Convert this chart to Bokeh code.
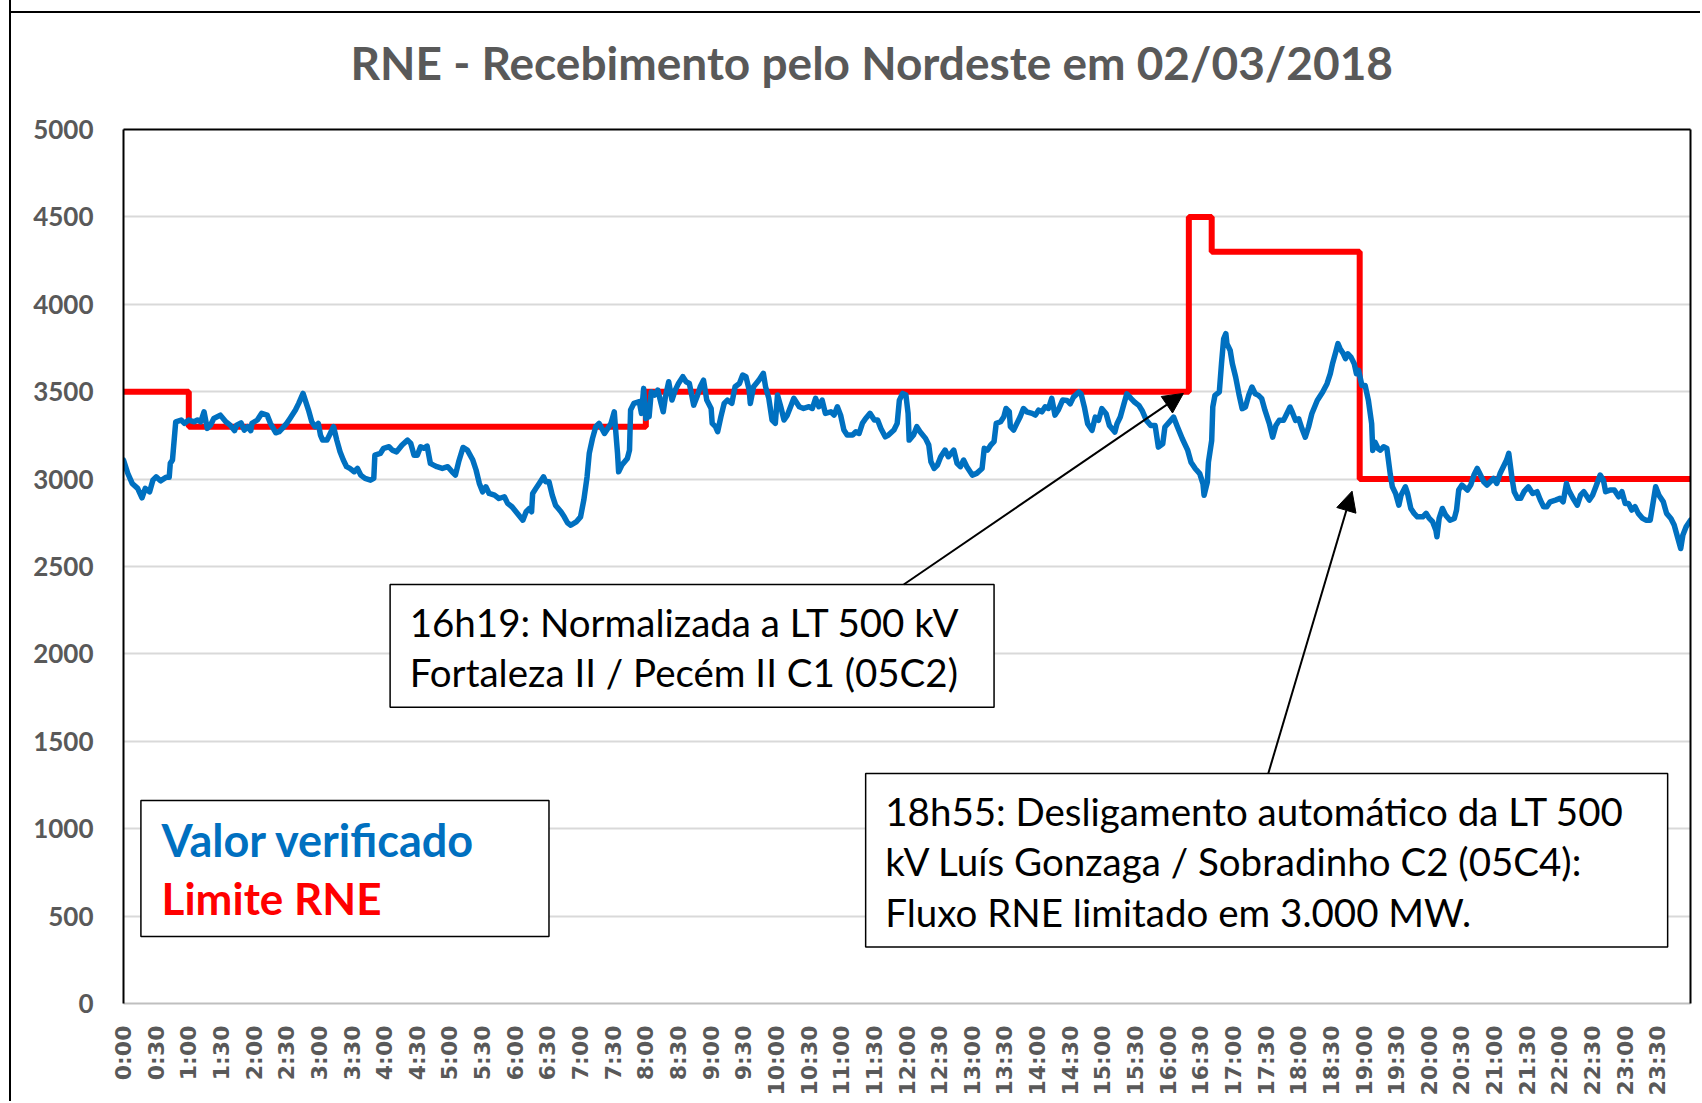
from math import pi
from bokeh.plotting import figure
from bokeh.models import Range1d, FixedTicker, Label, BoxAnnotation, Arrow, NormalHead, LinearAxis
from bokeh.embed import file_html
from bokeh.resources import INLINE

# ---------------- data ----------------
minutes = [0, 4, 8, 13, 17, 20, 24, 27, 30, 34, 39, 42, 43, 45, 48, 53, 56, 60, 65, 68, 71, 74, 77, 80, 83, 89, 94, 98,
           102, 104, 108, 111, 114, 117, 118, 123, 127, 132, 135, 140, 143, 146, 150, 153, 158, 161, 165, 167, 170, 173,
           176, 179, 181, 183, 187, 190, 193, 196, 199, 202, 205, 208, 212, 215, 218, 222, 227, 230, 231, 236, 239, 244,
           247, 251, 256, 261, 264, 267, 270, 273, 276, 279, 282, 285,
           288, 293, 298, 302, 305, 308, 312, 316, 321, 324, 327, 330, 333, 336, 341, 345, 350, 353, 357, 362, 367, 370,
           373, 375, 376, 379, 382, 386, 388, 391, 394, 397, 402, 405, 408, 411, 416, 420, 423, 426, 428, 431, 434, 437,
           442, 445, 448, 451, 452, 454, 455, 458, 463, 465, 466, 469, 474, 476, 478, 480, 483, 485, 488, 491, 494, 496,
           498, 501, 504, 507, 510, 514, 517, 520, 524, 527, 530, 533, 536, 540, 541, 544, 546, 549, 552, 555, 559, 562,
           566, 569,
           572, 575, 576, 579, 584, 588, 590, 593, 596, 599, 601, 604, 607, 610, 613, 616, 621, 625, 630, 633, 636, 639,
           642, 645, 650, 653, 656, 659, 662, 665, 670, 673, 676, 679, 682, 686, 690, 693, 696, 700, 703, 708, 711, 713,
           716, 719, 721, 722, 726, 729, 732, 737, 740, 742, 745, 748, 751, 755, 758, 763, 766, 769, 772, 775, 780, 784,
           789, 791, 794, 797, 800, 802, 806, 809, 811, 814, 815, 818, 821, 824, 827, 830, 835, 838, 841, 844, 847, 850,
           853, 856, 859, 863,
           867, 870, 873, 878, 880, 883, 886, 890, 893, 896, 899, 903, 906, 911, 913, 916, 919, 922, 926, 929, 933, 936,
           940, 944, 948, 951, 955, 957, 961, 965, 968, 973, 978, 981, 985, 989, 992, 993, 996, 997, 1000, 1001, 1003,
           1007, 1009, 1011, 1013, 1014, 1017, 1019, 1022, 1025, 1028, 1031, 1034, 1037, 1040, 1043, 1046, 1049, 1053,
           1056, 1059, 1062, 1066, 1069, 1072, 1074, 1077, 1080, 1083, 1086, 1089, 1092, 1097, 1102, 1106, 1109, 1111,
           1114, 1116, 1118, 1121, 1123, 1125, 1128, 1131, 1133, 1135, 1138, 1141, 1144, 1147, 1148, 1150, 1153,
           1155, 1158, 1161, 1164, 1166, 1169, 1172, 1174, 1178, 1180, 1183, 1186, 1189, 1194, 1197, 1200, 1203, 1206,
           1207, 1209, 1212, 1215, 1219, 1223, 1225, 1227, 1230, 1235, 1238, 1241, 1244, 1247, 1250, 1253, 1256, 1259,
           1262, 1265, 1268, 1271, 1273, 1276, 1278, 1281, 1284, 1287, 1291, 1295, 1299, 1302, 1305, 1308, 1311, 1316,
           1320, 1323, 1326, 1328, 1332, 1336, 1339, 1342, 1347, 1350, 1353, 1357, 1360, 1362, 1366, 1370, 1374, 1377,
           1380, 1383, 1386, 1389, 1392, 1396, 1399, 1403, 1406, 1408, 1411, 1415, 1418, 1422, 1425, 1428, 1431, 1433,
           1436, 1440]

valor_verificado = [3109, 3032, 2975, 2947, 2893, 2947, 2927, 2994, 3013, 2990, 3010, 3010, 3090, 3109, 3328, 3338, 3319,
                    3338, 3328, 3338, 3328, 3385, 3290, 3309, 3347, 3366, 3328, 3309, 3277, 3309, 3322, 3280, 3300, 3277,
                    3319, 3338, 3376, 3366, 3319, 3265, 3271, 3290, 3319, 3347, 3395, 3433, 3490, 3452, 3395, 3328, 3300,
                    3319, 3252, 3223, 3223, 3261, 3300, 3223, 3156, 3109, 3071, 3061, 3042, 3061, 3023, 3004, 2994, 3004,
                    3137, 3147, 3176, 3185, 3166, 3156, 3195, 3223, 3204, 3137, 3137, 3185, 3176, 3189, 3090, 3080,
                    3071, 3061, 3071, 3042, 3023, 3099, 3181, 3166, 3109, 3052, 2975, 2927, 2956, 2918, 2908, 2889, 2899,
                    2861, 2842, 2803, 2765, 2813, 2832, 2813, 2918, 2947, 2975, 3013, 2985, 2985, 2908, 2851, 2813, 2784,
                    2750, 2736, 2755, 2784, 2880, 3013, 3147, 3233, 3300, 3319, 3261, 3290, 3319, 3385, 3300, 3147, 3042,
                    3080, 3118, 3166, 3395, 3433, 3443, 3376, 3519, 3347, 3357, 3500, 3481, 3509, 3433, 3385, 3471, 3557,
                    3452, 3509, 3547, 3586, 3557, 3547, 3423, 3471, 3528, 3566, 3452, 3404, 3319, 3300, 3271, 3357, 3433,
                    3452, 3433, 3528, 3547, 3595,
                    3586, 3509, 3433, 3528, 3567, 3605, 3529, 3462, 3338, 3319, 3481, 3414, 3338, 3366, 3414, 3462, 3414,
                    3404, 3414, 3404, 3462, 3414, 3452, 3376, 3385, 3366, 3414, 3366, 3281, 3252, 3252, 3271, 3261, 3319,
                    3347, 3376, 3338, 3338, 3290, 3242, 3252, 3281, 3319, 3452, 3490, 3481, 3376, 3223, 3252, 3300, 3271,
                    3233, 3195, 3099, 3061, 3080, 3128, 3166, 3128, 3166, 3090, 3071, 3109, 3071, 3023, 3033, 3061, 3176,
                    3166, 3195, 3214, 3319, 3328, 3357, 3404, 3385, 3300, 3281, 3319, 3357, 3404, 3385, 3376, 3366, 3395,
                    3385, 3414, 3404, 3462, 3366, 3395, 3452,
                    3450, 3431, 3469, 3498, 3488, 3412, 3317, 3279, 3355, 3336, 3403, 3374, 3307, 3269, 3317, 3355, 3422,
                    3488, 3460, 3441, 3422, 3393, 3336, 3307, 3307, 3183, 3202, 3298, 3326, 3355, 3307, 3231, 3164, 3097,
                    3059, 3031, 2973, 2907, 2983, 3097, 3221, 3412, 3479, 3498, 3660, 3803, 3832, 3775, 3736, 3660, 3584,
                    3488, 3403, 3412, 3479, 3527, 3488, 3479, 3460, 3393, 3317, 3240, 3307, 3336, 3336, 3374, 3412, 3384,
                    3336, 3345, 3288, 3240, 3298, 3374, 3450, 3498, 3546, 3603, 3660, 3727, 3775, 3746, 3717, 3689, 3717,
                    3698, 3660, 3603, 3622, 3536, 3536, 3450, 3317, 3164, 3212, 3174,
                    3166, 3185, 3175, 3032, 2956, 2918, 2851, 2908, 2956, 2918, 2832, 2804, 2784, 2784, 2804, 2775, 2756,
                    2708, 2670, 2775, 2832, 2794, 2765, 2775, 2823, 2937, 2966, 2937, 2966, 3023, 3061, 3023, 2985, 2966,
                    2985, 3004, 2975, 3032, 3071, 3109, 3147, 3004, 2928, 2890, 2890, 2928, 2956, 2918, 2928, 2880, 2842,
                    2842, 2870, 2880, 2890, 2870, 2975, 2937, 2890, 2851, 2908, 2928, 2880, 2908, 2956, 3023, 2994, 2928,
                    2937, 2937, 2899, 2928, 2861, 2861, 2823, 2842, 2804, 2775, 2765, 2765, 2880, 2956, 2908, 2870, 2804,
                    2775, 2737, 2670, 2603, 2680, 2727, 2765]

limit_minutes = [0, 60, 480, 979, 1000, 1136, 1440]
limite_rne = [3500, 3300, 3500, 4500, 4300, 3000, 3000]

y_ticks = [0, 500, 1000, 1500, 2000, 2500, 3000, 3500, 4000, 4500, 5000]
x_tick_minutes = [0, 30, 60, 90, 120, 150, 180, 210, 240, 270, 300, 330, 360, 390, 420, 450, 480, 510, 540, 570,
                  600, 630, 660, 690, 720, 750, 780, 810, 840, 870, 900, 930, 960, 990, 1020, 1050, 1080, 1110,
                  1140, 1170, 1200, 1230, 1260, 1290, 1320, 1350, 1380, 1410]
x_tick_labels = ["0:00", "0:30", "1:00", "1:30", "2:00", "2:30", "3:00", "3:30", "4:00", "4:30", "5:00", "5:30",
                 "6:00", "6:30", "7:00", "7:30", "8:00", "8:30", "9:00", "9:30", "10:00", "10:30", "11:00", "11:30",
                 "12:00", "12:30", "13:00", "13:30", "14:00", "14:30", "15:00", "15:30", "16:00", "16:30", "17:00",
                 "17:30", "18:00", "18:30", "19:00", "19:30", "20:00", "20:30", "21:00", "21:30", "22:00", "22:30",
                 "23:00", "23:30"]

title_text = "RNE - Recebimento pelo Nordeste em 02/03/2018"
note1_lines = ["16h19: Normalizada a LT 500 kV", "Fortaleza II / Pecém II C1 (05C2)"]
note2_lines = ["18h55: Desligamento automático da LT 500", "kV Luís Gonzaga / Sobradinho C2 (05C4):",
               "Fluxo RNE limitado em 3.000 MW."]

BLUE = "#0070C0"
RED = "#FF0000"
GRAY_TXT = "#595959"
CAL = "Lato"

# ---------------- figure ----------------
p = figure(width=1691, height=1107, x_range=Range1d(0, 1440), y_range=Range1d(0, 5000),
           output_backend="svg", toolbar_location=None,
           min_border_left=112, min_border_right=12, min_border_top=135, min_border_bottom=98)
# outer chart frame: left edge as a border, top edge as a thin background stripe
p.styles = {"margin-left": "9px", "margin-top": "-6px",
            "border-left": "2px solid black",
            "background-color": "white",
            "background-image": "linear-gradient(black, black)",
            "background-repeat": "no-repeat",
            "background-size": "100% 2px",
            "background-position": "0px 17px"}
p.background_fill_color = "white"
p.border_fill_color = None
p.outline_line_color = None

# title
p.title.text = title_text
p.title.align = "left"
p.title.vertical_align = "top"
p.title.offset = 227
p.title.standoff = 76
p.title.text_font = CAL
p.title.text_font_style = "bold"
p.title.text_font_size = "46px"
p.title.text_color = GRAY_TXT

# axes
p.xaxis.ticker = FixedTicker(ticks=x_tick_minutes)
p.xaxis.major_label_overrides = {m: lab for m, lab in zip(x_tick_minutes, x_tick_labels)}
p.xaxis.major_label_orientation = pi / 2
p.xaxis.major_label_text_font = "DejaVu Sans"
p.xaxis.major_label_text_font_style = "bold"
p.xaxis.major_label_text_font_size = "22px"
p.xaxis.major_label_text_color = GRAY_TXT
p.xaxis.major_label_standoff = 16
p.xaxis.major_tick_line_color = None
p.xaxis.minor_tick_line_color = None
p.xaxis.axis_line_color = "#BFBFBF"
p.xaxis.axis_line_width = 2

p.yaxis.ticker = FixedTicker(ticks=y_ticks)
p.yaxis.major_label_text_font = CAL
p.yaxis.major_label_text_font_style = "bold"
p.yaxis.major_label_text_font_size = "26px"
p.yaxis.major_label_text_color = GRAY_TXT
p.yaxis.major_label_standoff = 24
p.yaxis.major_tick_line_color = None
p.yaxis.minor_tick_line_color = None
p.yaxis.axis_line_color = "black"
p.yaxis.axis_line_width = 2

# plain black frame lines on top and right
for side in ("above", "right"):
    ax = LinearAxis(ticker=FixedTicker(ticks=[]), axis_line_color="black", axis_line_width=2,
                    major_tick_line_color=None, minor_tick_line_color=None,
                    major_label_text_font_size="0px")
    p.add_layout(ax, side)

p.xgrid.grid_line_color = None
p.ygrid.ticker = FixedTicker(ticks=y_ticks[1:-1])
p.ygrid.grid_line_color = "#D9D9D9"
p.ygrid.grid_line_width = 2

# series
p.step(limit_minutes, limite_rne, mode="after", line_color=RED, line_width=6)
p.line(minutes, valor_verificado, line_color=BLUE, line_width=5.5, line_join="round", line_cap="round")

# legend box
p.add_layout(BoxAnnotation(left=16, right=391, bottom=383, top=1161, fill_color="white", fill_alpha=1,
                           line_color="black", line_width=1.5, line_alpha=1))
p.add_layout(Label(x=35, y=938, text="Valor verificado", text_baseline="middle", text_font=CAL,
                   text_font_style="bold", text_font_size="45px", text_color=BLUE))
p.add_layout(Label(x=35, y=601, text="Limite RNE", text_baseline="middle", text_font=CAL,
                   text_font_style="bold", text_font_size="44px", text_color=RED))

# annotation 1
p.add_layout(BoxAnnotation(left=245, right=800, bottom=1695, top=2397, fill_color="white", fill_alpha=1,
                           line_color="black", line_width=1.5, line_alpha=1))
for txt, yv in zip(note1_lines, [2185, 1894]):
    p.add_layout(Label(x=263, y=yv, text=txt, text_baseline="middle", text_font=CAL,
                       text_font_size="38.5px", text_color="black"))
p.add_layout(Arrow(end=NormalHead(size=20, fill_color="black", line_color="black"),
                   x_start=717, y_start=2397, x_end=974, y_end=3490, line_color="black", line_width=2))

# annotation 2
p.add_layout(BoxAnnotation(left=682, right=1419, bottom=323, top=1316, fill_color="white", fill_alpha=1,
                           line_color="black", line_width=1.5, line_alpha=1))
for txt, yv in zip(note2_lines, [1104, 818, 526]):
    p.add_layout(Label(x=700, y=yv, text=txt, text_baseline="middle", text_font=CAL,
                       text_font_size="38.5px", text_color="black"))
p.add_layout(Arrow(end=NormalHead(size=20, fill_color="black", line_color="black"),
                   x_start=1052, y_start=1316, x_end=1129, y_end=2931, line_color="black", line_width=2))

open("out.html", "w").write(file_html(p, INLINE))
